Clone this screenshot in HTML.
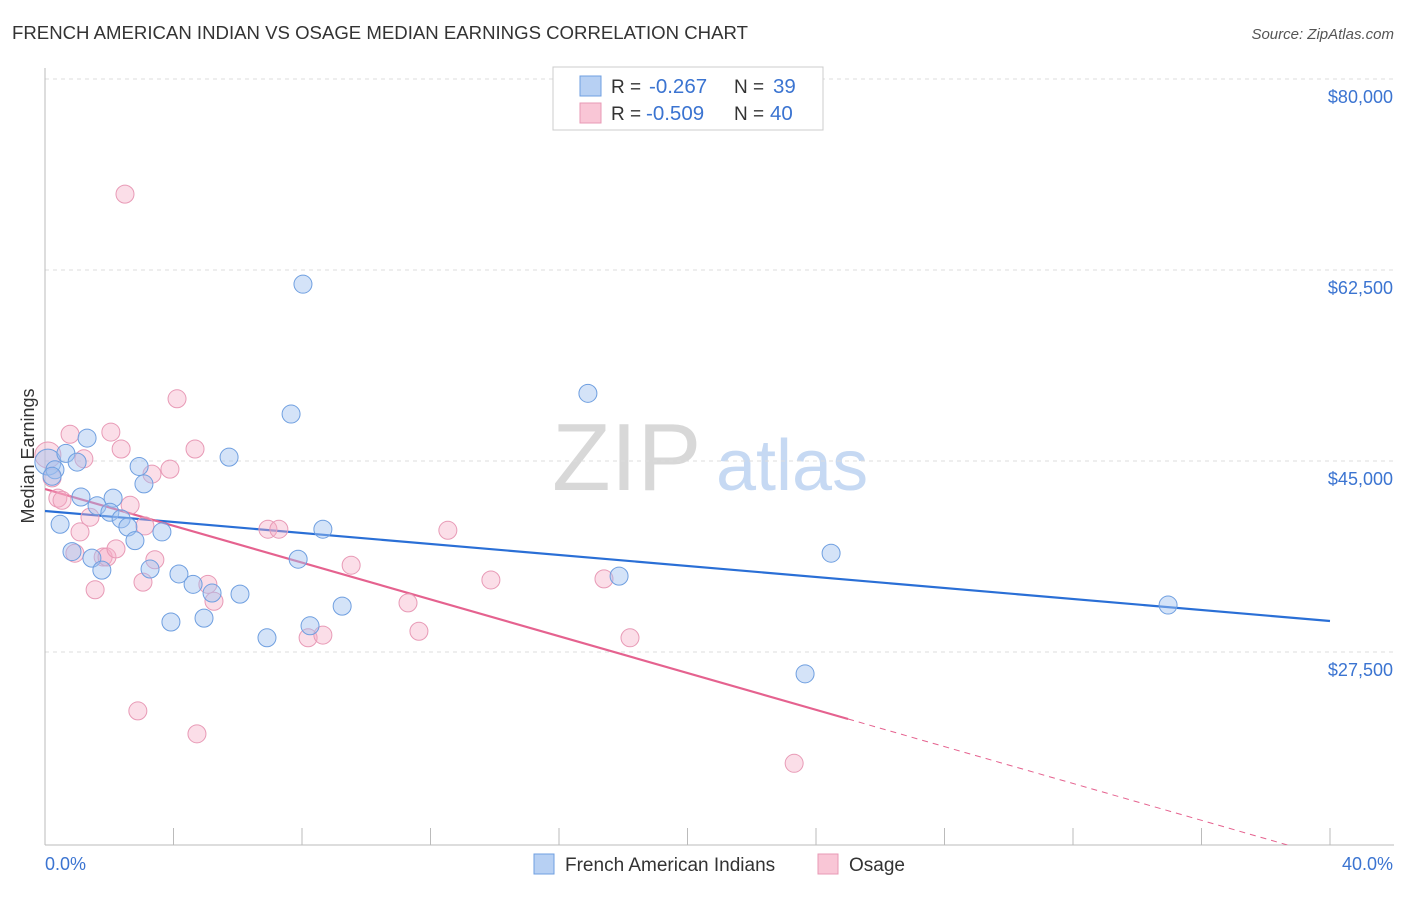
<!DOCTYPE html>
<html><head><meta charset="utf-8"><style>
body{margin:0;background:#fff;font-family:"Liberation Sans",sans-serif}
svg text{font-family:"Liberation Sans",sans-serif}
</style></head><body>
<svg id="chart" width="1406" height="892" xmlns="http://www.w3.org/2000/svg">
<defs><clipPath id="plotclip"><rect x="45" y="60" width="1360" height="785"/></clipPath></defs>
<text x="12" y="39" font-size="18.6" fill="#333">FRENCH AMERICAN INDIAN VS OSAGE MEDIAN EARNINGS CORRELATION CHART</text>
<text x="1394" y="39" font-size="15" fill="#555" text-anchor="end" font-style="italic">Source: ZipAtlas.com</text>
<g>
<text x="552" y="490" font-size="96" fill="#d8d8d8" font-family="Liberation Serif">ZIP</text>
<text x="716" y="490" font-size="72" fill="#c6d9f3">atlas</text>
</g>
<g id="grid"></g>
<g id="axes"></g>
<g id="trend" clip-path="url(#plotclip)"></g>
<g id="pts"></g>
<text transform="translate(34,456) rotate(-90)" font-size="18" fill="#333" text-anchor="middle">Median Earnings</text>
<g>
<rect x="553" y="67" width="270" height="63" fill="#fff" stroke="#ccc"/>
<rect x="580" y="76" width="21" height="20" fill="#b7d0f3" stroke="#6f9fe0"/>
<rect x="580" y="103" width="21" height="20" fill="#f9c6d6" stroke="#e899b5"/>
<text x="611" y="93" font-size="19" fill="#333">R =</text>
<text x="649" y="93" font-size="20.5" fill="#3b74d1">-0.267</text>
<text x="734" y="93" font-size="19" fill="#333">N =</text>
<text x="773" y="93" font-size="20.5" fill="#3b74d1">39</text>
<text x="611" y="120" font-size="19" fill="#333">R =</text>
<text x="646" y="120" font-size="20.5" fill="#3b74d1">-0.509</text>
<text x="734" y="120" font-size="19" fill="#333">N =</text>
<text x="770" y="120" font-size="20.5" fill="#3b74d1">40</text>
</g>
<g>
<rect x="534" y="854" width="20" height="20" fill="#b7d0f3" stroke="#6f9fe0"/>
<text x="565" y="871" font-size="19" fill="#333">French American Indians</text>
<rect x="818" y="854" width="20" height="20" fill="#f9c6d6" stroke="#e899b5"/>
<text x="849" y="871" font-size="19" fill="#333">Osage</text>
</g>
</svg>
<script>
const yTicks=[80000,62500,45000,27500];
const yTickLabels=["$80,000","$62,500","$45,000","$27,500"];
const xTickVals=[0,4,8,12,16,20,24,28,32,36,40];
const blueX=[0.09,0.31,0.22,0.47,0.65,0.84,1.0,1.12,1.31,1.46,1.62,1.77,2.12,2.02,2.37,2.58,2.80,2.93,3.08,3.27,3.64,3.92,4.17,4.61,4.95,5.20,5.73,6.07,6.91,7.66,7.88,8.03,8.25,8.65,9.25,16.9,17.87,24.47,34.96,23.66];
const blueY=[44900,44200,43600,39200,45700,36700,44900,41700,47100,36100,40900,35000,41600,40300,39700,38950,37700,44500,42900,35100,38500,30250,34650,33700,30600,32900,45350,32800,28800,49300,36000,61200,29900,38750,31700,51200,34450,36550,31800,25500];
const pinkX=[0.09,0.22,0.40,0.53,0.78,0.93,1.09,1.21,1.40,1.56,1.81,1.93,2.05,2.21,2.37,2.49,2.65,2.89,3.05,3.11,3.33,3.42,3.89,4.11,4.67,4.73,5.07,5.26,6.94,7.28,8.19,8.65,9.53,11.30,11.64,12.54,13.88,17.40,18.21,23.32];
const pinkY=[45550,43450,41600,41400,47450,36550,38500,45200,39850,33200,36200,36200,47650,36950,46100,69450,40950,22100,33900,39050,43800,35950,44250,50700,46100,20000,33700,32150,38750,38750,28800,29050,35450,32000,29400,38650,34100,34200,28800,17300];
const blueTrend=[40420,30340];
const pinkTrend=[42430,21360,8700];
const NS="http://www.w3.org/2000/svg";
function xs(p){return 45+p*32.125;}
function ys(v){return 79+(80000-v)*0.010914;}
function mk(tag,attrs,parent){const e=document.createElementNS(NS,tag);for(const k in attrs)e.setAttribute(k,attrs[k]);parent.appendChild(e);return e;}
const grid=document.getElementById('grid'),axes=document.getElementById('axes'),trend=document.getElementById('trend'),pts=document.getElementById('pts');
yTicks.forEach((v,i)=>{
  const l=mk('line',{x1:45,x2:1394,y1:ys(v),y2:ys(v),stroke:'#ddd','stroke-dasharray':'4,4'},grid);
  
  
  const t=mk('text',{x:1393,y:ys(v)+24,'font-size':18,fill:'#3b74d1','text-anchor':'end'},axes);
  t.textContent=yTickLabels[i];
  
  
});
const ya=mk('line',{x1:45,x2:45,y1:68,y2:845,stroke:'#bbb'},axes);


const xa=mk('line',{x1:45,x2:1394,y1:845,y2:845,stroke:'#bbb'},axes);


xTickVals.forEach(v=>{
  const t=mk('line',{x1:xs(v),x2:xs(v),y1:828,y2:845,stroke:'#bbb'},axes);
  
  
});
const x0=mk('text',{x:45,y:870,'font-size':18,fill:'#3b74d1'},axes);x0.textContent='0.0%';


const x1=mk('text',{x:1393,y:870,'font-size':18,fill:'#3b74d1','text-anchor':'end'},axes);x1.textContent='40.0%';


function dot(x,y,r,fill,stroke,name){
  const c=mk('circle',{cx:xs(x),cy:ys(y),r:r,fill:fill,stroke:stroke,'stroke-width':1},pts);
  
  
}
pinkX.forEach((x,i)=>dot(x,pinkY[i],i==0?13:9,'rgba(246,172,198,0.4)','#e89ab6','osage-point'));
blueX.forEach((x,i)=>dot(x,blueY[i],i==0?13:9,'rgba(160,194,240,0.45)','#6f9fe0','french-point'));
const bl=mk('line',{x1:xs(0),y1:ys(blueTrend[0]),x2:xs(40),y2:ys(blueTrend[1]),stroke:'#2a6fd6','stroke-width':2.2},trend);


const pl=mk('line',{x1:xs(0),y1:ys(pinkTrend[0]),x2:xs(25),y2:ys(pinkTrend[1]),stroke:'#e5628f','stroke-width':2.2},trend);


const pd=mk('line',{x1:xs(25),y1:ys(pinkTrend[1]),x2:xs(40),y2:ys(pinkTrend[2]),stroke:'#e5628f','stroke-width':1,'stroke-dasharray':'6,5'},trend);


</script>
</body></html>
